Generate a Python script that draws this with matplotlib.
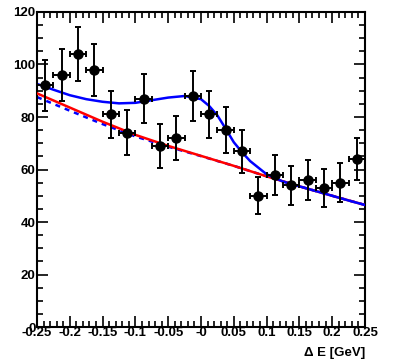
import numpy as np
import matplotlib
matplotlib.use('Agg')
import matplotlib.pyplot as plt
from matplotlib.ticker import MultipleLocator, FixedLocator

# data points (bin centres, counts)
x_pts = [-0.2375, -0.2125, -0.1875, -0.1625, -0.1375, -0.1125, -0.0875, -0.0625, -0.0375, -0.0125,
         0.0125, 0.0375, 0.0625, 0.0875, 0.1125, 0.1375, 0.1625, 0.1875, 0.2125, 0.2375]
y_pts = [92, 96, 104, 98, 81, 74, 87, 69, 72, 88,
         81, 75, 67, 50, 58, 54, 56, 53, 55, 64]
x_err = 0.0125

# total fit (blue)
x_tot = [-0.25, -0.225, -0.2, -0.175, -0.15, -0.125, -0.1, -0.075, -0.05, -0.025, 0.0,
         0.0125, 0.025, 0.0375, 0.05, 0.0625, 0.075, 0.1, 0.125, 0.15, 0.175, 0.2, 0.225, 0.25]
y_tot = [92.6, 90.4, 88.3, 86.8, 85.8, 85.2, 85.4, 86.4, 87.4, 88.0, 86.8,
         84.2, 80.6, 75.6, 70.4, 66.6, 63.2, 58.2, 55.4, 53.6, 51.8, 50.0, 48.2, 46.5]

# background component (red)
x_bkg = [-0.25, -0.2, -0.15, -0.1, -0.05, 0.0, 0.05, 0.1, 0.15, 0.2, 0.25]
y_bkg = [89.0, 83.6, 78.2, 73.2, 69.0, 65.2, 61.4, 57.4, 53.6, 50.0, 46.5]

# blue dashed component
x_dash = [-0.25, -0.2, -0.15, -0.1, -0.05, 0.0, 0.05, 0.1, 0.15, 0.2, 0.25]
y_dash = [87.6, 82.4, 77.3, 72.6, 68.7, 65.1, 61.4, 57.4, 53.6, 50.0, 46.5]

xticks = [-0.25, -0.2, -0.15, -0.1, -0.05, 0.0, 0.05, 0.1, 0.15, 0.2, 0.25]
xticklabels = ['-0.25', '-0.2', '-0.15', '-0.1', '-0.05', '-0', '0.05', '0.1', '0.15', '0.2', '0.25']

plt.rcParams['font.family'] = ['Liberation Sans', 'DejaVu Sans']
plt.rcParams['font.weight'] = 'bold'

fig = plt.figure(figsize=(3.98, 3.63), dpi=100)
ax = fig.add_axes([0.093, 0.099, 0.824, 0.868])

ax.plot(x_dash, y_dash, color='blue', lw=1.8, ls=(0, (2, 2)), zorder=2)
ax.plot(x_bkg, y_bkg, color='red', lw=1.8, zorder=3)
ax.plot(x_tot, y_tot, color='blue', lw=1.8, zorder=4)

ax.errorbar(x_pts, y_pts, xerr=x_err, yerr=np.sqrt(y_pts), fmt='o', color='black',
            ms=6.5, elinewidth=1.4, capsize=2.5, capthick=1.4, zorder=5)

ax.set_xlim(-0.25, 0.25)
ax.set_ylim(0, 120)
ax.xaxis.set_major_locator(FixedLocator(xticks))
ax.set_xticklabels(xticklabels)
ax.xaxis.set_minor_locator(MultipleLocator(0.01))
ax.yaxis.set_major_locator(MultipleLocator(20))
ax.yaxis.set_minor_locator(MultipleLocator(5))

ax.tick_params(which='both', direction='in', top=True, right=True, width=1.2,
               labelsize=9.5, pad=1)
ax.tick_params(which='major', length=8)
ax.tick_params(which='minor', length=4)
ax.tick_params(axis='x', pad=0)
for s in ax.spines.values():
    s.set_linewidth(1.5)

fig.text(0.917, 0.012, 'Δ E [GeV]', ha='right', va='bottom', fontsize=9.5, fontweight='bold')

fig.savefig('out.png', dpi=100)
